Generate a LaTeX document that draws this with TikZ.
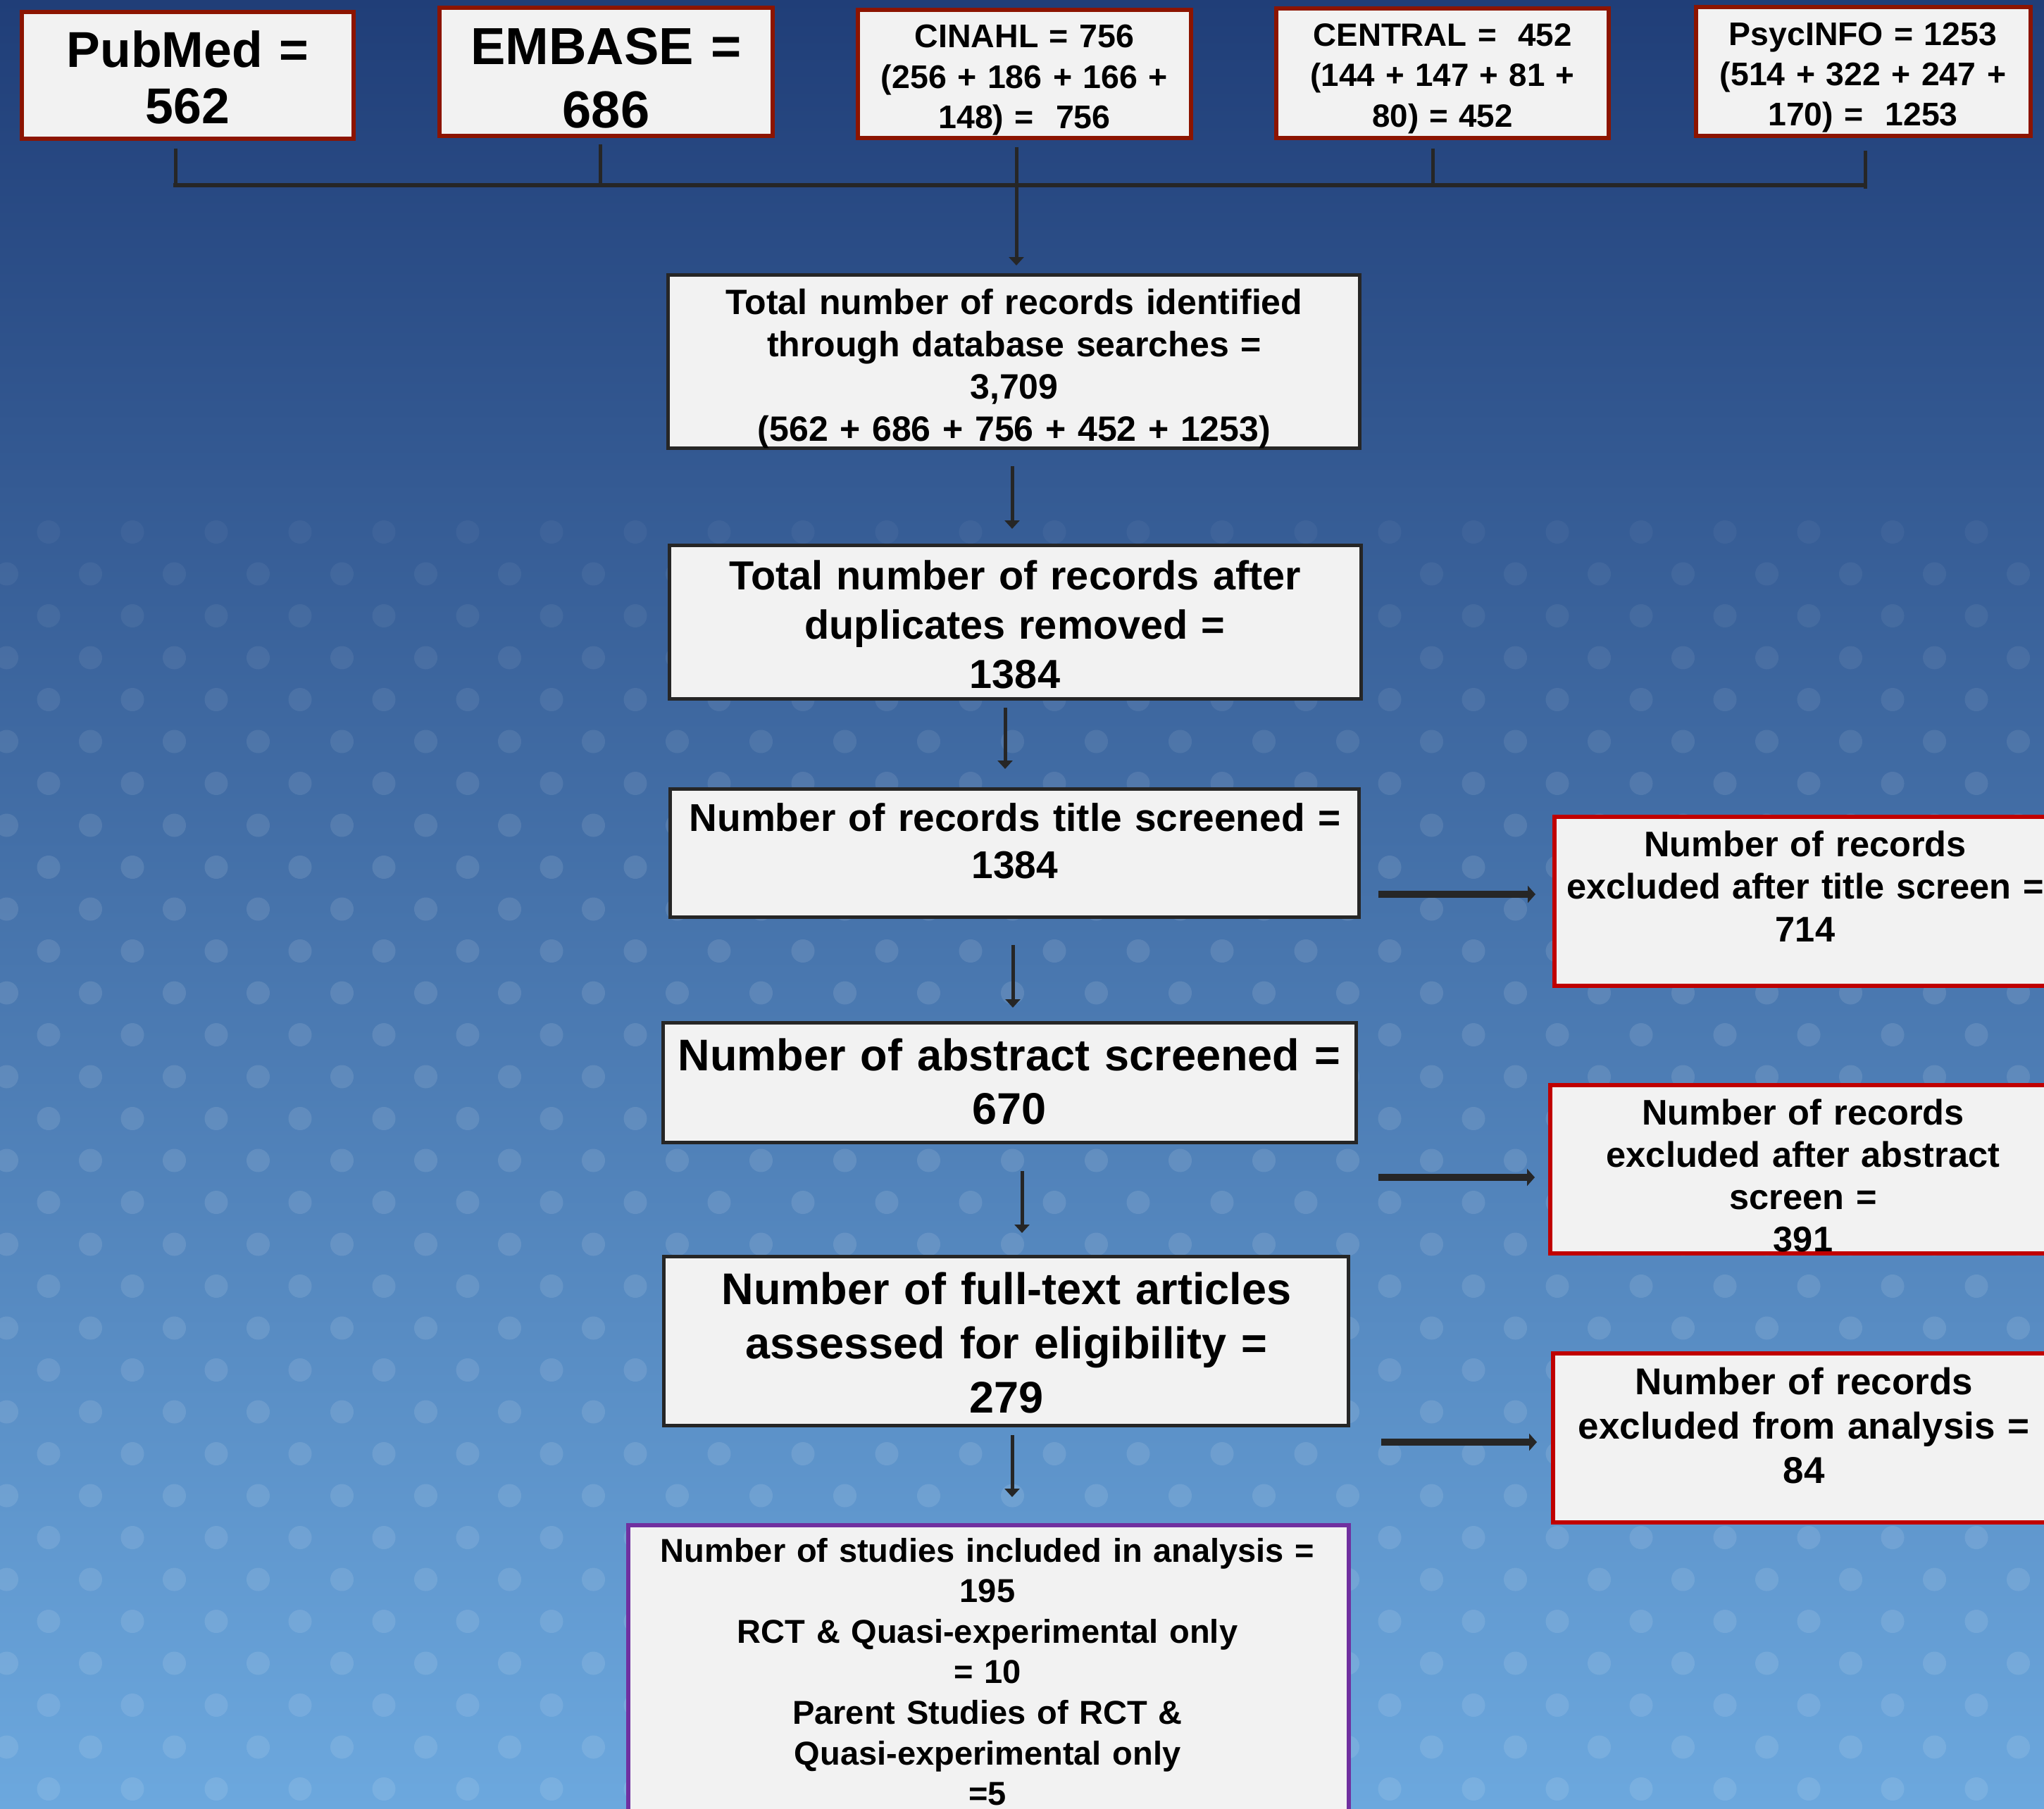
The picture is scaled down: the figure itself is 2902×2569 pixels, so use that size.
\documentclass[tikz,border=0pt]{standalone}
\usepackage{fontspec}
\setmainfont{Liberation Sans}
\usetikzlibrary{arrows.meta,calc}
\definecolor{bgtop}{RGB}{32,62,120}
\definecolor{bgmid}{RGB}{68,114,176}
\definecolor{bgbot}{RGB}{108,168,222}
\definecolor{boxfill}{RGB}{242,242,242}
\definecolor{darkline}{RGB}{38,38,38}
\definecolor{dbred}{RGB}{140,20,0}
\definecolor{exred}{RGB}{192,0,0}
\definecolor{finpurple}{RGB}{112,48,160}
\tikzset{
  anybox/.style={rectangle, fill=boxfill, inner sep=0pt, outer sep=0pt},
  dbbox/.style={anybox, draw=dbred, line width=1.5pt},
  flowbox/.style={anybox, draw=darkline, line width=1.25pt},
  exbox/.style={anybox, draw=exred, line width=1.5pt},
  finbox/.style={anybox, draw=finpurple, line width=1.5pt},
  txt/.style={inner sep=0pt, outer sep=0pt, text width=320pt, align=center, anchor=base, text=black},
  varrow/.style={draw=darkline, line width=1.25pt, -{Triangle[width=5.25pt,length=3pt]}},
  harrow/.style={draw=darkline, line width=2.5pt, -{Triangle[width=6pt,length=2.75pt]}},
  barline/.style={draw=darkline, line width=1.5pt, line cap=rect},
  stubline/.style={draw=darkline, line width=1.25pt},
}
\newcommand\fsz[2]{\fontsize{#1pt}{#2pt}\selectfont\bfseries}
\begin{document}
\begin{tikzpicture}[x=0.25pt,y=-0.25pt]
\useasboundingbox (0,0) rectangle (2902,2569);
\clip (0,0) rectangle (2902,2569);
% background
\shade[top color=bgtop, middle color=bgmid, bottom color=bgbot] (0,0) rectangle (2902,2569);
\foreach \j in {0,...,30} {
  \pgfmathsetmacro\yy{755.5+59.5*\j}
  \pgfmathsetmacro\off{mod(\j,2)*59.5}
  \pgfmathsetmacro\op{0.045+0.06*min(1,\j/8)}
  \foreach \i in {-1,...,24} {
    \fill[white, fill opacity=\op] ({69+\off+119*\i},\yy) circle[radius=16.5];
  }
}
% database boxes
\node[dbbox, minimum width=117.75pt, minimum height=45pt] (pub) at (266.5,107) {};
\node[dbbox, minimum width=118.25pt, minimum height=45.5pt] (emb) at (860.5,102) {};
\node[dbbox, minimum width=118.25pt, minimum height=45.5pt] (cin) at (1454.5,105) {};
\node[dbbox, minimum width=118pt, minimum height=46pt] (cen) at (2048,104) {};
\node[dbbox, minimum width=118.75pt, minimum height=45.75pt] (psy) at (2645.5,101.5) {};
\node[txt, font=\fsz{17.875}{20}] (t-pub) at (266.5,96) {PubMed =\\562};
\node[txt, font=\fsz{18.5}{22.5}] (t-emb) at (860.5,92) {EMBASE =\\686};
\node[txt, font=\fsz{11.625}{14.375}] (t-cin) at (1454.5,68) {CINAHL = 756\\(256 + 186 + 166 +\\148) = \ 756};
\node[txt, font=\fsz{11.425}{14.25}] (t-cen) at (2048,66) {CENTRAL = \ 452\\(144 + 147 + 81 +\\80) = 452};
\node[txt, font=\fsz{11.6}{14.25}] (t-psy) at (2645,65) {PsycINFO = 1253\\(514 + 322 + 247 +\\170) = \ 1253};
% flow boxes
\node[flowbox, minimum width=245.5pt, minimum height=61.5pt] (total) at (1439.5,513.5) {};
\node[flowbox, minimum width=245.5pt, minimum height=54.5pt] (dup) at (1441.5,883.5) {};
\node[flowbox, minimum width=244.5pt, minimum height=45.5pt] (title) at (1440.5,1211.5) {};
\node[flowbox, minimum width=246pt, minimum height=42.5pt] (abs) at (1433.5,1537.5) {};
\node[flowbox, minimum width=243pt, minimum height=60pt] (full) at (1428.5,1904.5) {};
\node[finbox, minimum width=255.75pt, minimum height=112.75pt] (fin) at (1403.5,2391.5) {};
\node[exbox, minimum width=177.5pt, minimum height=60pt] (ex1) at (2562,1280) {};
\node[exbox, minimum width=179pt, minimum height=59.75pt] (ex2) at (2559,1660.5) {};
\node[exbox, minimum width=178pt, minimum height=60pt] (ex3) at (2561,2042) {};
\node[txt, font=\fsz{12.5}{15}] (t-total) at (1440,446) {Total number of records identified\\through database searches =\\3,709\\(562 + 686 + 756 + 452 + 1253)};
\node[txt, font=\fsz{14.4}{17.5}] (t-dup) at (1441,837) {Total number of records after\\duplicates removed =\\1384};
\node[txt, font=\fsz{13.75}{16.75}] (t-title) at (1441,1180) {Number of records title screened =\\1384};
\node[txt, font=\fsz{15.75}{19.125}] (t-abs) at (1433,1520) {Number of abstract screened =\\670};
\node[txt, font=\fsz{15.75}{19.25}] (t-full) at (1429,1852) {Number of full-text articles\\assessed for eligibility =\\279};
\node[txt, font=\fsz{11.75}{14.4}] (t-fin) at (1402,2218) {Number of studies included in analysis =\\195\\RCT \& Quasi-experimental only\\= 10\\Parent Studies of RCT \&\\Quasi-experimental only\\=5};
\node[txt, font=\fsz{12.625}{15.125}] (t-ex1) at (2563,1216) {Number of records\\excluded after title screen =\\714};
\node[txt, font=\fsz{12.625}{15}] (t-ex2) at (2560,1597) {Number of records\\excluded after abstract\\screen =\\391};
\node[txt, font=\fsz{13.25}{15.75}] (t-ex3) at (2561,1980) {Number of records\\excluded from analysis =\\84};
% bracket joining the databases
\coordinate (b1) at (249,263);
\coordinate (b2) at (852,263);
\coordinate (b4) at (2034,263);
\coordinate (b5) at (2648,263);
\coordinate (b5low) at (2648,268);
\draw[barline] (b1) -- (b5);
\draw[stubline, shorten <=3.5pt] (pub.south -| b1) -- (b1);
\draw[stubline, shorten <=3pt] (emb.south -| b2) -- (b2);
\draw[stubline, shorten <=3.75pt] (cen.south -| b4) -- (b4);
\draw[stubline, shorten <=5.25pt] (psy.south -| b5) -- (b5low);
% vertical arrows
\coordinate (xa1) at (1443,0);
\coordinate (xa2) at (1437,0);
\coordinate (xa3) at (1427,0);
\coordinate (xa4) at (1438,0);
\coordinate (xa5) at (1451,0);
\coordinate (xa6) at (1437,0);
\draw[varrow, shorten <=3.25pt, shorten >=3.375pt] (cin.south -| xa1) -- (total.north -| xa1);
\draw[varrow, shorten <=6.375pt, shorten >=5.875pt] (total.south -| xa2) -- (dup.north -| xa2);
\draw[varrow, shorten <=3.125pt, shorten >=7.125pt] (dup.south -| xa3) -- (title.north -| xa3);
\draw[varrow, shorten <=9.875pt, shorten >=5.375pt] (title.south -| xa4) -- (abs.north -| xa4);
\draw[varrow, shorten <=10.125pt, shorten >=8.375pt] (abs.south -| xa5) -- (full.north -| xa5);
\draw[varrow, shorten <=3.375pt, shorten >=10pt] (full.south -| xa6) -- (fin.north -| xa6);
% horizontal arrows to exclusions
\coordinate (ya1) at (0,1270);
\coordinate (ya2) at (0,1672);
\coordinate (ya3) at (0,2048);
\draw[harrow, shorten <=6.875pt, shorten >=6.75pt] (title.east |- ya1) -- (ex1.west |- ya1);
\draw[harrow, shorten <=7.875pt, shorten >=5.5pt] (abs.east |- ya2) -- (ex2.west |- ya2);
\draw[harrow, shorten <=11.625pt, shorten >=5.75pt] (full.east |- ya3) -- (ex3.west |- ya3);
\end{tikzpicture}
\end{document}
